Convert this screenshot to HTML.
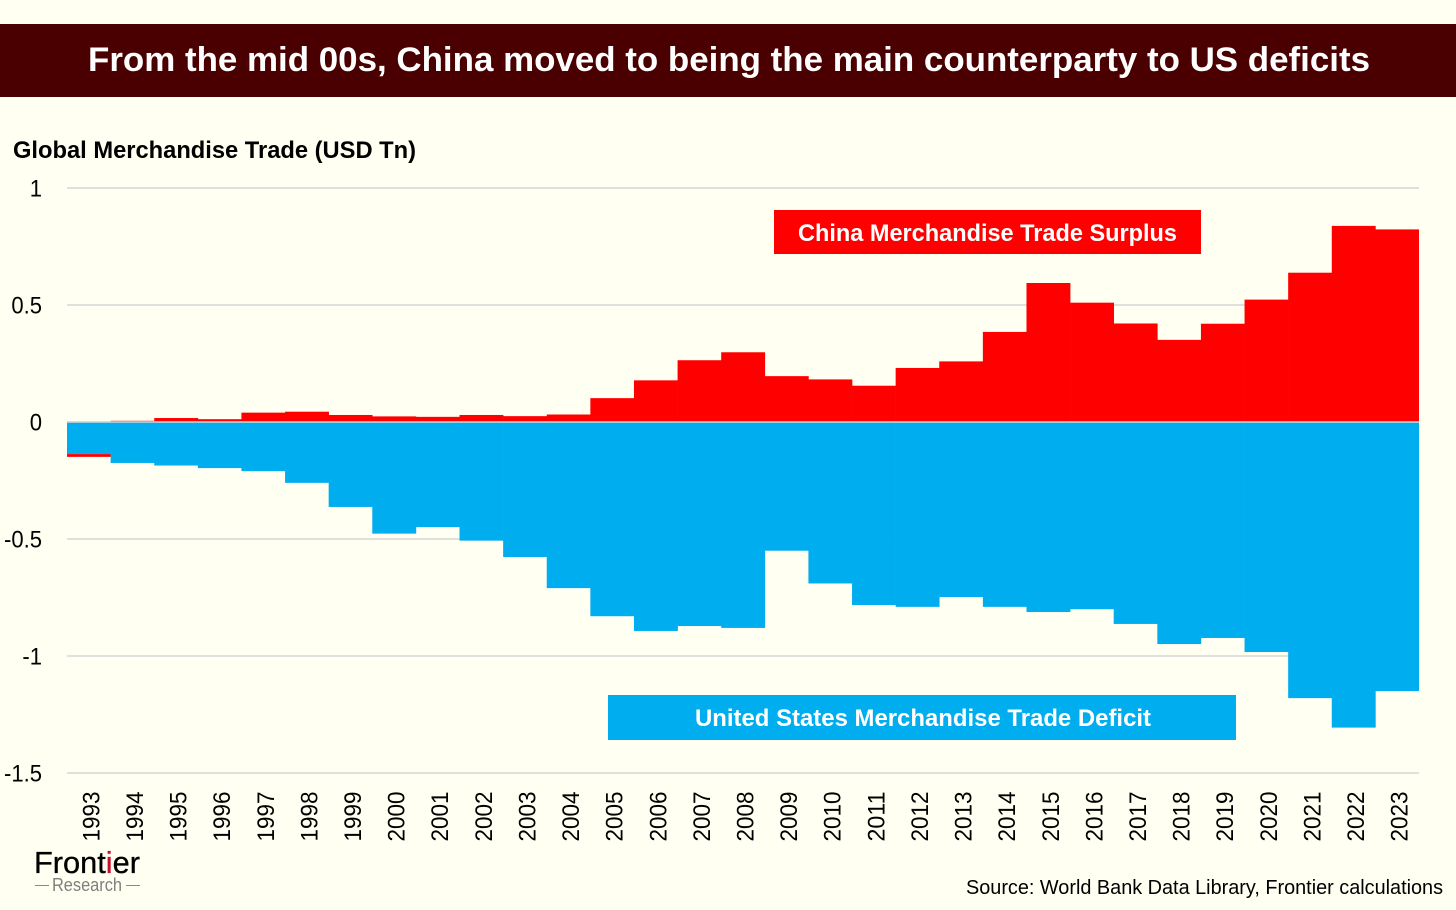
<!DOCTYPE html>
<html lang="en">
<head>
<meta charset="utf-8">
<title>China surplus vs US deficit</title>
<style>
html,body{margin:0;padding:0;background:#fffff2;}
svg{display:block;font-family:"Liberation Sans",sans-serif;}
</style>
</head>
<body>
<svg id="chart" xmlns="http://www.w3.org/2000/svg" width="1456" height="910" viewBox="0 0 1456 910">
  <rect x="0" y="0" width="1456" height="910" fill="#fffff2"/>
  <rect x="0" y="24" width="1456" height="73" fill="#4a0000"/>
  <text x="88" y="71" font-size="34" font-weight="700" fill="#ffffff" textLength="1282" lengthAdjust="spacingAndGlyphs">From the mid 00s, China moved to being the main counterparty to US deficits</text>
  <text x="13" y="158" font-size="24" font-weight="700" fill="#000000" textLength="403" lengthAdjust="spacingAndGlyphs">Global Merchandise Trade (USD Tn)</text>
  <g id="grid"></g>
  <g id="marks"></g>
  <g id="zero"></g>
  <g id="yticks"></g>
  <g id="xticks"></g>
  <g>
    <rect x="774" y="210" width="427" height="44" fill="#ff0000"/>
    <text x="798" y="241" font-size="24" font-weight="700" fill="#ffffff" textLength="379" lengthAdjust="spacingAndGlyphs">China Merchandise Trade Surplus</text>
  </g>
  <g>
    <rect x="608" y="695" width="628" height="45" fill="#00adef"/>
    <text x="695" y="726" font-size="24" font-weight="700" fill="#ffffff" textLength="456" lengthAdjust="spacingAndGlyphs">United States Merchandise Trade Deficit</text>
  </g>
  <g>
    <text x="34" y="873" font-size="31" fill="#000000" stroke="#000000" stroke-width="0.3" textLength="106" lengthAdjust="spacingAndGlyphs">Front<tspan fill="#c8102e" stroke="#c8102e">i</tspan>er</text>
    <text x="52" y="891" font-size="18" fill="#7f7f7f" textLength="70" lengthAdjust="spacingAndGlyphs">Research</text>
    <line x1="35" x2="49" y1="885.5" y2="885.5" stroke="#8a8a8a" stroke-width="1"/>
    <line x1="126" x2="140" y1="885.5" y2="885.5" stroke="#8a8a8a" stroke-width="1"/>
  </g>
  <text x="966" y="894" font-size="20" fill="#000000" textLength="477" lengthAdjust="spacingAndGlyphs">Source: World Bank Data Library, Frontier calculations</text>
</svg>
<script>
const years = [1993,1994,1995,1996,1997,1998,1999,2000,2001,2002,2003,2004,2005,2006,2007,2008,2009,2010,2011,2012,2013,2014,2015,2016,2017,2018,2019,2020,2021,2022,2023];
const chinaSurplus = [-0.012,0.005,0.017,0.012,0.04,0.044,0.03,0.024,0.022,0.03,0.025,0.032,0.102,0.178,0.264,0.298,0.196,0.182,0.155,0.231,0.259,0.385,0.594,0.51,0.421,0.351,0.42,0.523,0.638,0.838,0.823];
const usDeficit = [-0.137,-0.175,-0.186,-0.197,-0.21,-0.26,-0.363,-0.477,-0.449,-0.507,-0.577,-0.71,-0.83,-0.893,-0.872,-0.88,-0.55,-0.69,-0.782,-0.79,-0.748,-0.79,-0.812,-0.8,-0.863,-0.949,-0.923,-0.983,-1.18,-1.306,-1.15];
const yTicks = [1,0.5,0,-0.5,-1,-1.5];

const NS = 'http://www.w3.org/2000/svg';
const plotLeft = 67, plotRight = 1419, plotZero = 422, pxPerUnit = 234;
function xScale(i){ return plotLeft + (plotRight - plotLeft) * i / years.length; }
function yScale(v){ return plotZero - v * pxPerUnit; }
function make(tag, attrs, parent){
  const el = document.createElementNS(NS, tag);
  Object.keys(attrs).forEach(function(k){ el.setAttribute(k, attrs[k]); });
  parent.appendChild(el);
  return el;
}

const grid = document.getElementById('grid');
const yticksGroup = document.getElementById('yticks');
yTicks.forEach(function(t){
  const line = make('line', {x1: plotLeft, x2: plotRight, y1: yScale(t), y2: yScale(t), stroke: '#d6d6d6', 'stroke-width': 1.5}, grid);
  
  
  const label = make('text', {x: 42, y: yScale(t) + 8.5, 'font-size': 24.5, 'text-anchor': 'end', fill: '#000'}, yticksGroup);
  
  
  label.textContent = String(t);
  label.setAttribute('textLength', label.getComputedTextLength() * 0.9);
  label.setAttribute('lengthAdjust', 'spacingAndGlyphs');
});

const marks = document.getElementById('marks');
years.forEach(function(year, i){
  const x0 = xScale(i), x1 = xScale(i + 1), w = x1 - x0 + 0.3;
  const us = usDeficit[i], cn = chinaSurplus[i];
  const base = cn < 0 ? us : 0;
  const top = Math.min(yScale(base), yScale(base + cn));
  const h = Math.abs(yScale(base) - yScale(base + cn));
  const redBar = make('rect', {x: x0, y: top, width: i === years.length - 1 ? x1 - x0 : w, height: h, fill: '#ff0000'}, marks);
  
  
  const blueBar = make('rect', {x: x0, y: yScale(0), width: i === years.length - 1 ? x1 - x0 : w, height: yScale(us) - yScale(0), fill: '#00adef'}, marks);
  
  

  const cx = (x0 + x1) / 2 + 10.5;
  const yearLabel = make('text', {transform: 'translate(' + cx + ' 841.5) rotate(-90)', 'font-size': 24, fill: '#000', textLength: 50, lengthAdjust: 'spacingAndGlyphs'}, document.getElementById('xticks'));
  
  
  yearLabel.textContent = String(year);
});

const zeroLine = make('line', {x1: plotLeft, x2: plotRight, y1: yScale(0), y2: yScale(0), stroke: '#d6d6d6', 'stroke-width': 1.5}, document.getElementById('zero'));


</script>
</body>
</html>
